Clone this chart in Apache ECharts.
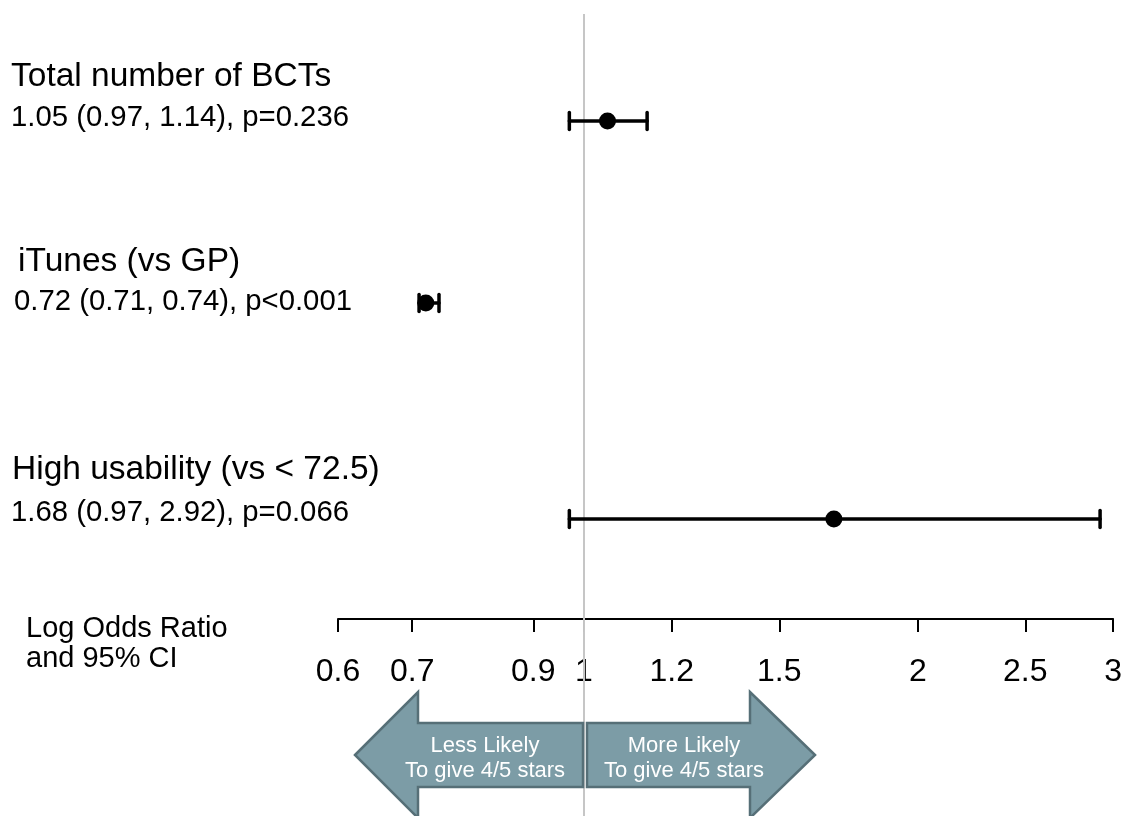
<!DOCTYPE html>
<html>
<head>
<meta charset="utf-8">
<title>Odds of 4/5 star ratings</title>
<script src="https://cdn.jsdelivr.net/npm/echarts@6/dist/echarts.min.js"></script>
<style>
  html, body { margin: 0; padding: 0; background: #ffffff; }
  #chart { width: 1125px; height: 816px; }
</style>
</head>
<body>
<div id="chart"></div>
<script>
// Predictors and their odds ratios with 95% confidence intervals
const terms = ['Total number of BCTs', 'iTunes (vs GP)', 'High usability (vs < 72.5)'];
const oddsRatio = [1.05, 0.72, 1.68];
const ciLower = [0.97, 0.71, 0.97];
const ciUpper = [1.14, 0.74, 2.92];
const pText = ['p=0.236', 'p<0.001', 'p=0.066'];

// Axis ticks (odds ratio scale, drawn on a log axis)
const tickValues = [0.6, 0.7, 0.9, 1, 1.2, 1.5, 2, 2.5, 3];
const tickLabels = ['0.6', '0.7', '0.9', '1', '1.2', '1.5', '2', '2.5', '3'];
const axisMin = 0.6;
const axisMax = 3;
const nullValue = 1;

// Vertical layout (row positions on the hidden y axis, in px from the top)
const rowY = [121, 303, 519];
const titlePos = [[11, 77], [18, 262], [12, 470]];
const statPos = [[11, 118], [14, 302], [11, 513]];
const FONT = '"Liberation Sans", Arial, Helvetica, sans-serif';

const ln = Math.log;
const fmt = v => v.toFixed(2);

const points = oddsRatio.map((v, i) => [ln(v), rowY[i]]);
const bars = oddsRatio.map((v, i) => [ln(ciLower[i]), ln(ciUpper[i]), rowY[i]]);

const chart = echarts.init(document.getElementById('chart'), null, { renderer: 'canvas' });

const labelGraphics = [];
terms.forEach((t, i) => {
  labelGraphics.push({
    type: 'text', x: titlePos[i][0], y: titlePos[i][1], z: 10,
    style: { text: t, font: '33.5px ' + FONT, fill: '#000', verticalAlign: 'middle', align: 'left' }
  });
  labelGraphics.push({
    type: 'text', x: statPos[i][0], y: statPos[i][1], z: 10,
    style: {
      text: fmt(oddsRatio[i]) + ' (' + fmt(ciLower[i]) + ', ' + fmt(ciUpper[i]) + '), ' + pText[i],
      font: '29.3px ' + FONT, fill: '#000', verticalAlign: 'middle', align: 'left'
    }
  });
});

// Axis caption
labelGraphics.push({
  type: 'text', x: 26, y: 644, z: 10,
  style: { text: 'Log Odds Ratio\nand 95% CI', font: '29px ' + FONT, lineHeight: 30.5, fill: '#000', verticalAlign: 'middle', align: 'left' }
});

// Direction arrows below the axis
const arrowFill = '#7c9ca6';
const arrowStroke = '#566f77';
const arrows = [
  {
    type: 'polygon', z: 20,
    shape: { points: [[355, 755], [418, 692], [418, 723], [583, 723], [583, 787], [418, 787], [418, 818]] },
    style: { fill: arrowFill, stroke: arrowStroke, lineWidth: 2.5 }
  },
  {
    type: 'polygon', z: 20,
    shape: { points: [[815, 755], [750, 692], [750, 723], [587, 723], [587, 787], [750, 787], [750, 818]] },
    style: { fill: arrowFill, stroke: arrowStroke, lineWidth: 2.5 }
  },
  {
    type: 'text', x: 485, y: 758, z: 21,
    style: { text: 'Less Likely\nTo give 4/5 stars', font: '22px ' + FONT, lineHeight: 25, fill: '#ffffff', align: 'center', verticalAlign: 'middle' }
  },
  {
    type: 'text', x: 684, y: 758, z: 21,
    style: { text: 'More Likely\nTo give 4/5 stars', font: '22px ' + FONT, lineHeight: 25, fill: '#ffffff', align: 'center', verticalAlign: 'middle' }
  }
];

const option = {
  animation: false,
  backgroundColor: '#ffffff',
  grid: { left: 338, right: 10, top: 0, bottom: 0, containLabel: false },
  xAxis: {
    type: 'value',
    min: ln(axisMin),
    max: ln(axisMax),
    offset: -197,
    axisLine: { show: true, onZero: false, lineStyle: { color: '#000', width: 2 } },
    axisTick: { show: true, length: 13, customValues: tickValues.map(ln), lineStyle: { color: '#000', width: 2 } },
    axisLabel: {
      show: true,
      customValues: tickValues.map(ln),
      margin: 37,
      fontSize: 32,
      fontFamily: FONT,
      color: '#000',
      formatter: v => {
        const i = tickValues.findIndex(t => Math.abs(ln(t) - v) < 1e-6);
        return i >= 0 ? tickLabels[i] : '';
      }
    },
    splitLine: { show: false }
  },
  yAxis: {
    type: 'value',
    min: 0,
    max: 816,
    inverse: true,
    show: false
  },
  series: [
    {
      // reference line at odds ratio 1
      type: 'line',
      data: [[ln(nullValue), 14], [ln(nullValue), 816]],
      symbol: 'none',
      lineStyle: { color: '#c6c6c6', width: 2 },
      z: 1,
      silent: true
    },
    {
      // confidence interval whiskers
      type: 'custom',
      z: 3,
      data: bars,
      renderItem: (params, api) => {
        const lo = api.coord([api.value(0), api.value(2)]);
        const hi = api.coord([api.value(1), api.value(2)]);
        const cap = 8.5;
        const st = { stroke: '#000', lineWidth: 3.5, lineCap: 'round' };
        return {
          type: 'group',
          children: [
            { type: 'line', shape: { x1: lo[0], y1: lo[1], x2: hi[0], y2: hi[1] }, style: st },
            { type: 'line', shape: { x1: lo[0], y1: lo[1] - cap, x2: lo[0], y2: lo[1] + cap }, style: st },
            { type: 'line', shape: { x1: hi[0], y1: hi[1] - cap, x2: hi[0], y2: hi[1] + cap }, style: st }
          ]
        };
      }
    },
    {
      // point estimates
      type: 'scatter',
      z: 4,
      data: points,
      symbol: 'circle',
      symbolSize: 17,
      itemStyle: { color: '#000', opacity: 1 }
    }
  ],
  graphic: labelGraphics.concat(arrows)
};

chart.setOption(option);
</script>
</body>
</html>
